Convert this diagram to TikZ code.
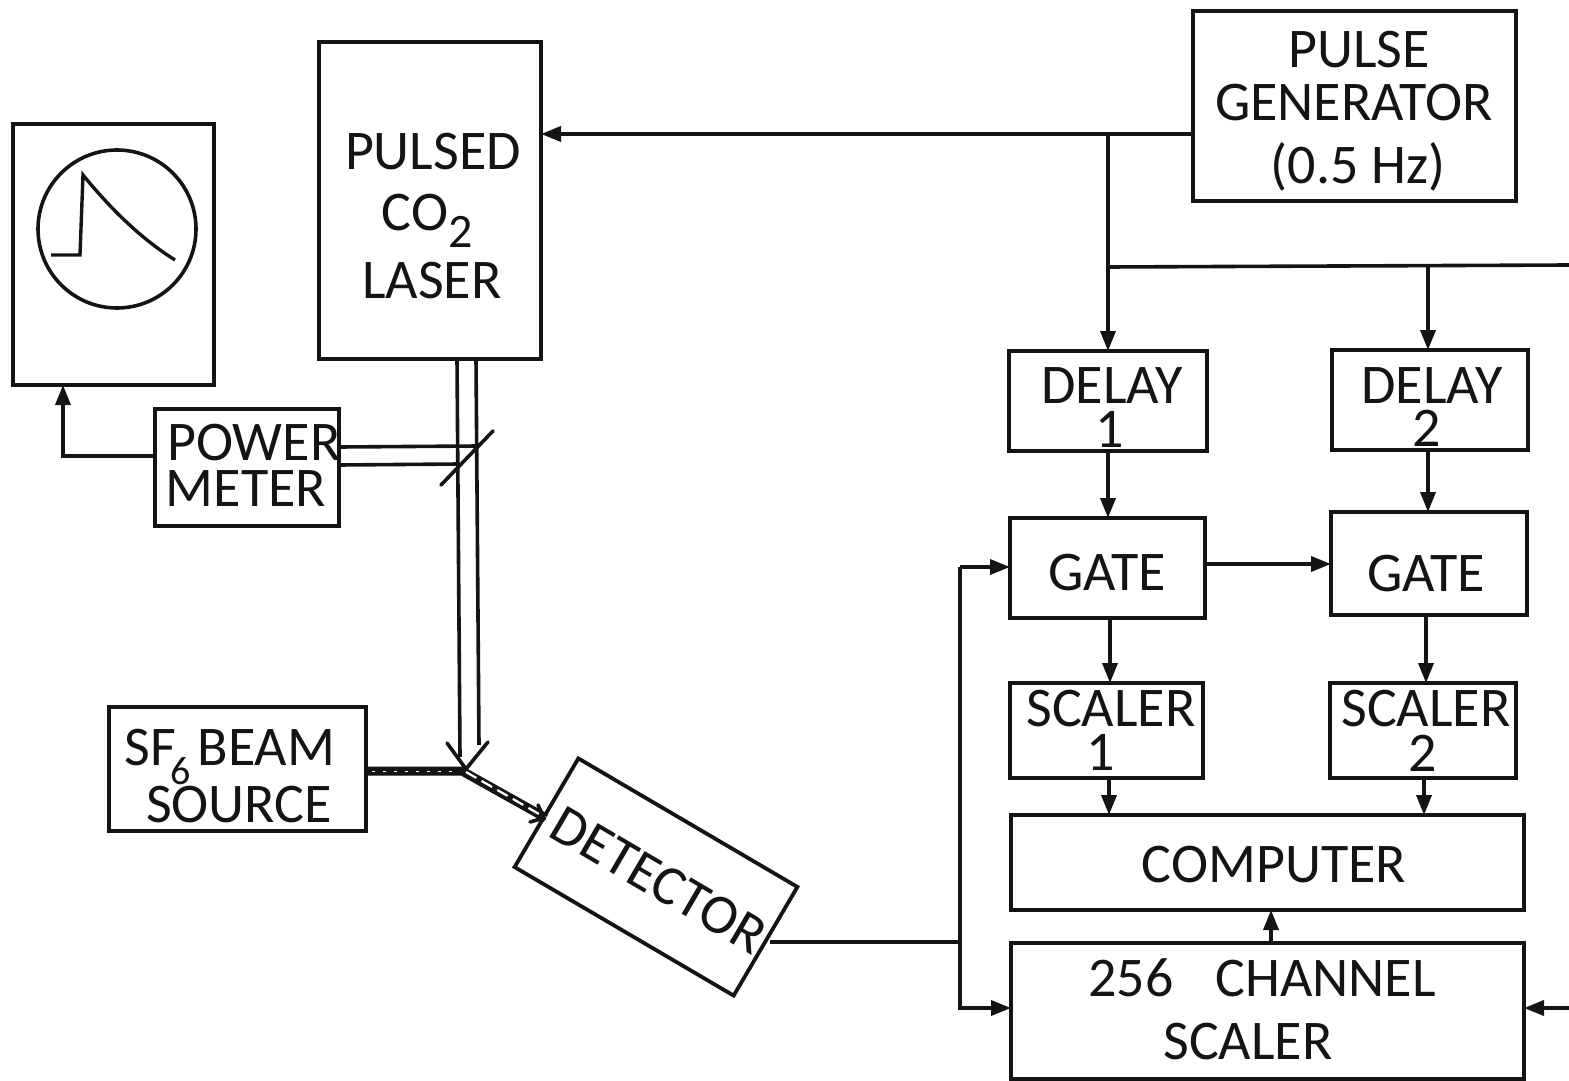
\documentclass[tikz,border=0pt]{standalone}
\usepackage{fontspec}
\setmainfont{Carlito}
\usetikzlibrary{arrows.meta}
\definecolor{ink}{gray}{0.08}
\tikzset{
  boxed/.style={draw=ink,line width=1.9pt,inner sep=0pt,outer sep=0pt,rectangle,fill=white},
  lbl/.style={inner sep=0pt,outer sep=0pt,text=ink,font=\fontsize{28}{30}\selectfont},
  wire/.style={draw=ink,line width=1.8pt},
  arr/.style={wire,-{Triangle[length=10pt,width=7.5pt]}},
  thinl/.style={draw=ink,line width=1.7pt}
}
\newcommand{\pxbox}[5]{%
  \pgfmathsetmacro{\cxx}{(#2+#4)/2}\pgfmathsetmacro{\cyy}{(#3+#5)/2}%
  \pgfmathsetmacro{\ww}{(#4-#2)*0.5}\pgfmathsetmacro{\hh}{(#5-#3)*0.5}%
  \node[boxed,minimum width=\ww pt,minimum height=\hh pt] (#1) at (\cxx,\cyy) {};}
\begin{document}
\begin{tikzpicture}[x=0.5pt,y=-0.5pt]
\useasboundingbox (0,0) rectangle (1569,1081);
\fill[white] (0,0) rectangle (1569,1081);
% boxes
\pxbox{scope}{13}{124}{214}{385}
\pxbox{laser}{319}{42}{541}{359}
\pxbox{pg}{1193}{11}{1516}{201}
\pxbox{pm}{155}{409}{339}{526}
\pxbox{sf}{109}{707}{366}{831}
\pxbox{dl1}{1009}{351}{1207}{451}
\pxbox{dl2}{1332}{350}{1528}{450}
\pxbox{gt1}{1010}{518}{1205}{618}
\pxbox{gt2}{1331}{512}{1527}{615}
\pxbox{sc1}{1010}{683}{1203}{778}
\pxbox{sc2}{1330}{683}{1516}{778}
\pxbox{comp}{1011}{815}{1524}{910}
\pxbox{ch}{1011}{943}{1524}{1079}
\node[boxed,rotate=-30.4,minimum width=127pt,minimum height=63pt] (det) at (656,877) {};
% oscilloscope screen
\node[draw=ink,line width=1.8pt,circle,minimum size=79pt,inner sep=0pt] (screen) at (117,229) {};
\draw[thinl,line join=miter] (51,255) -- (80,255) -- (83,175) .. controls (110,208) and (140,238) .. (175,260);
% labels
\node[lbl] (t1) at (433,152) {PULSED};
\node[lbl] (t2) at (427,221) {CO\raisebox{-0.3em}{\fontsize{24}{24}\selectfont 2}};
\node[lbl] (t3) at (432,281) {LASER};
\node[lbl] (t4) at (1359,50) {PULSE};
\node[lbl] (t5) at (1354,103) {GENERATOR};
\node[lbl] (t6) at (1358,167) {(0.5 Hz)};
\node[lbl] (t7) at (254,443) {POWER};
\node[lbl] (t8) at (246,489) {METER};
\node[lbl] (t9) at (230,757) {SF\raisebox{-0.33em}{\kern-0.1em\fontsize{20}{20}\selectfont 6}\kern0.12em BEAM};
\node[lbl] (t10) at (239,805) {SOURCE};
\node[lbl,rotate=-30.4] (t11) at (659,880) {DETECTOR};
\node[lbl] (t12) at (1112,386) {DELAY};
\node[lbl] (t13) at (1110,429) {1};
\node[lbl] (t14) at (1432,386) {DELAY};
\node[lbl] (t15) at (1427,428) {2};
\node[lbl] (t16) at (1107,573) {GATE};
\node[lbl] (t17) at (1426,574) {GATE};
\node[lbl] (t18) at (1111,709) {SCALER};
\node[lbl] (t19) at (1101,752) {1};
\node[lbl] (t20) at (1426,709) {SCALER};
\node[lbl] (t21) at (1423,753) {2};
\node[lbl] (t22) at (1274,865) {COMPUTER};
\node[lbl] (t23) at (1262,978) {256\hspace{0.75em}CHANNEL};
\node[lbl] (t24) at (1248,1042) {SCALER};
% named junctions and free ends
\coordinate (j1) at (1108,134);
\coordinate (j2) at (1108,267);
\coordinate (j3) at (1428,266);
\coordinate (edgeA) at (1569,265);
\coordinate (edgeB) at (1569,1008);
\coordinate (j4) at (960,942);
\coordinate (j5) at (960,567);
\coordinate (apex) at (466,769);
\coordinate (detin) at (546,818);
\coordinate (mirA) at (441,485);
\coordinate (mirB) at (493,431);
% signal connectors
\draw[arr] (pg.west |- j1) -- (laser.east |- j1);
\draw[arr] (j1) -- (dl1.north -| j1);
\draw[wire] (j2) -- (edgeA);
\draw[arr] (j3) -- (dl2.north -| j3);
\draw[arr] (dl1.south -| j1) -- (gt1.north -| j1);
\draw[arr] (dl2.south -| j3) -- (gt2.north -| j3);
\draw[arr] (gt1.east |- 0,564) -- (gt2.west |- 0,564);
\draw[arr] (gt1.south -| 1110,0) -- (sc1.north -| 1110,0);
\draw[arr] (gt2.south -| 1426,0) -- (sc2.north -| 1426,0);
\draw[arr] (sc1.south -| 1109,0) -- (comp.north -| 1109,0);
\draw[arr] (sc2.south -| 1424,0) -- (comp.north -| 1424,0);
\draw[arr] (ch.north -| 1271,0) -- (comp.south -| 1271,0);
\draw[arr] (edgeB) -- (ch.east |- edgeB);
\draw[wire] (770,942) -- (j4);
\draw[arr] (j5) -- (gt1.west |- j5);
\draw[wire] (j5) -- (j4);
\draw[arr] (j4) |- (ch.west |- edgeB);
\draw[arr] (pm.west |- 0,456) -- (63,456) -- (scope.south -| 63,0);
% laser beam and mirror
\draw[wire] (laser.south -| 457,0) -- (460,757);
\draw[wire] (laser.south -| 476,0) -- (479,745);
\draw[wire,line cap=round] (447,743) -- (apex) -- (488,742);
\draw[wire] (pm.east |- 0,447) -- (478,446);
\draw[wire] (pm.east |- 0,465) -- (459,464);
\draw[wire,line cap=round] (mirA) -- (mirB);
% molecular beam
\draw[draw=ink,line width=4.5pt] (sf.east |- 0,771) -- (462,771) -- (detin);
\draw[draw=white,line width=0.5pt,dash pattern=on 1.5pt off 4pt] (372,771) -- (458,771);
\draw[draw=white,line width=1.1pt,dash pattern=on 6pt off 3pt] (466,772) -- (detin);
\draw[wire,line cap=round] (530,822) -- (544,818) -- (538,805);
\end{tikzpicture}
\end{document}
